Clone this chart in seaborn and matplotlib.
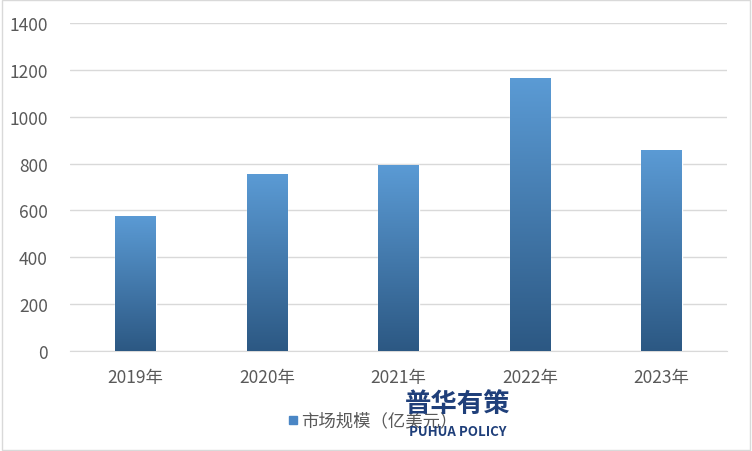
import numpy as np
import pandas as pd
import matplotlib
matplotlib.use("Agg")
import matplotlib.pyplot as plt
import seaborn as sns
from matplotlib.colors import LinearSegmentedColormap

# Data
years = ["2019年", "2020年", "2021年", "2022年", "2023年"]
market_size = [577, 757, 794, 1165, 858]
series_name = "市场规模（亿美元）"

df = pd.DataFrame({"year": years, "value": market_size})

sns.set_style("white")
plt.rcParams["font.family"] = ["Noto Sans CJK SC", "DejaVu Sans"]

fig = plt.figure(figsize=(7.52, 4.52), dpi=100)
ax = fig.add_axes([0.093, 0.221, 0.874, 0.726])

sns.barplot(data=df, x="year", y="value", color="#4A86C5", width=0.31, ax=ax, zorder=2)

# Gradient fill on every bar
grad = LinearSegmentedColormap.from_list("g", ["#2C5883", "#5B9BD5"])
gimg = np.linspace(0, 1, 256).reshape(-1, 1)
for p in ax.patches:
    x0, y0 = p.get_x(), p.get_y()
    w, h = p.get_width(), p.get_height()
    im = ax.imshow(gimg, cmap=grad, origin="lower", aspect="auto",
                   extent=(x0, x0 + w, y0, y0 + h), zorder=3)
    im.set_clip_path(p)

ax.set_xlim(-0.5, 4.5)
ax.set_ylim(0, 1400)
ax.set_yticks(range(0, 1401, 200))
ax.yaxis.grid(True, color="#D9D9D9", linewidth=1)
ax.set_axisbelow(True)
for s in ["top", "right", "left"]:
    ax.spines[s].set_visible(False)
ax.spines["bottom"].set_color("#D9D9D9")
ax.tick_params(axis="both", length=0, labelsize=12.5, labelcolor="#595959")
ax.tick_params(axis="x", pad=12)
ax.tick_params(axis="y", pad=16)
ax.set_xlabel("")
ax.set_ylabel("")

# Legend
fig.patches.append(plt.Rectangle((289 / 752, 1 - 425 / 452), 8 / 752, 8 / 452,
                                 transform=fig.transFigure, color="#4A86C5", figure=fig))
fig.text(301 / 752, 1 - 421 / 452, series_name, fontsize=12.5, color="#595959", va="center")

# Watermark
fig.text(458 / 752, 1 - 404 / 452, "普华有策", fontsize=19, fontweight="bold",
         color="#1F3F7A", ha="center", va="center")
fig.text(458 / 752, 1 - 432 / 452, "PUHUA POLICY", fontsize=9.5, fontweight="bold",
         color="#1F3F7A", ha="center", va="center")

# Figure border
fig.patches.append(plt.Rectangle((0.002, 0.002), 0.996, 0.996, transform=fig.transFigure,
                                 fill=False, edgecolor="#D9D9D9", linewidth=1, figure=fig))

fig.savefig("out.png", dpi=100)
